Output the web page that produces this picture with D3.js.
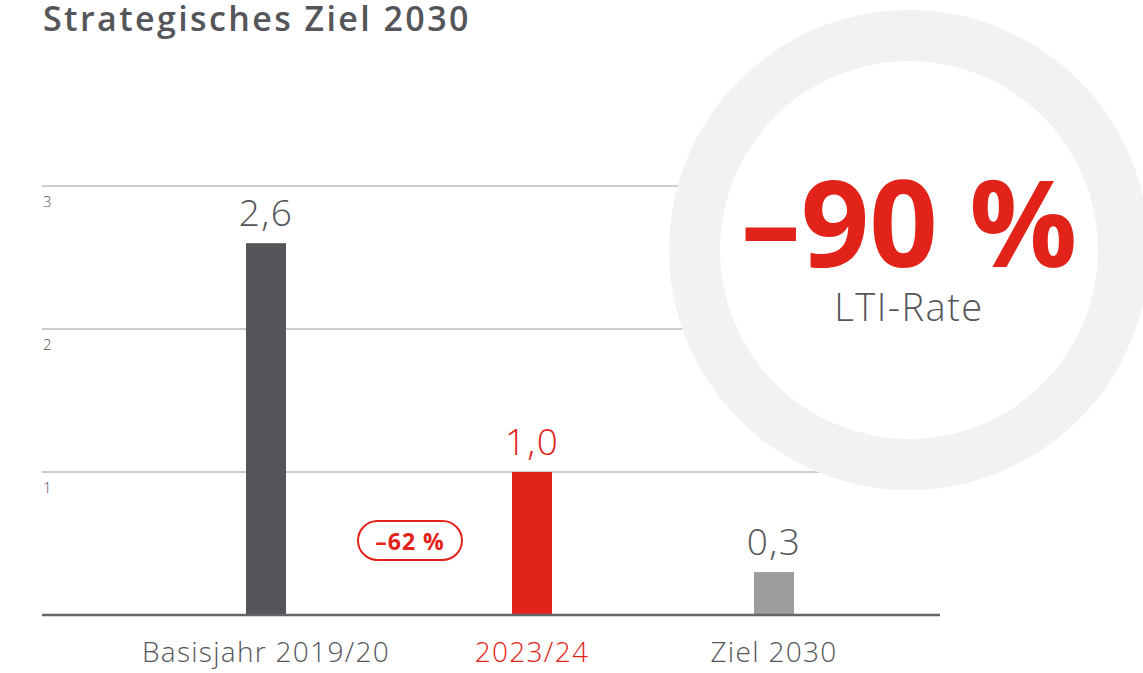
<!DOCTYPE html>
<html>
<head>
<meta charset="utf-8">
<script src="https://cdn.jsdelivr.net/npm/d3@7"></script>
<style>
  body { margin: 0; background: #fff; }
  svg text { font-family: "Open Sans", Lato, sans-serif; }
</style>
</head>
<body>
<div id="chart"></div>
<script>
// data
var categories = ["Basisjahr 2019/20", "2023/24", "Ziel 2030"];
var values = [2.6, 1.0, 0.3];
var valueLabels = ["2,6", "1,0", "0,3"];
var yTicks = [1, 2, 3];
var changeLabel = "\u201362 %";
var targetLabel = "\u201390 %";
var targetSub = "LTI-Rate";

var colors = ["#55565a", "#e2231a", "#9d9d9f"];
var textColors = ["#55565a", "#e2231a", "#55565a"];
var red = "#e2231a", dark = "#55565a";

function main() {
    var W = 1143, H = 673;
    var svg = d3.select("#chart").append("svg")
        .attr("width", W).attr("height", H);

    var x0 = 42, x1 = 940, y0 = 615;

    var x = d3.scaleOrdinal()
        .domain(categories)
        .range([266, 532, 774]);

    var y = d3.scaleLinear()
        .domain([0, 3])
        .range([y0, 186]);

    var barW = 40;

    // title
    svg.append("text")
        .attr("x", 43).attr("y", 31)
        .attr("font-size", 34).attr("font-weight", 600)
        .attr("letter-spacing", 2.4)
        .attr("fill", dark)
        .text("Strategisches Ziel 2030");

    // gridlines
    svg.selectAll(".grid")
        .data(yTicks)
        .enter().append("line")
        .attr("x1", x0).attr("x2", x1)
        .attr("y1", d => y(d)).attr("y2", d => y(d))
        .attr("stroke", "#9a9a9a").attr("stroke-width", 1);

    svg.selectAll(".ytick")
        .data(yTicks)
        .enter().append("text")
        .attr("x", 43).attr("y", d => y(d) + 21)
        .attr("font-size", 15).attr("font-weight", 300)
        .attr("fill", dark)
        .text(d => d);

    // circle with ring, covers gridlines
    var cx = 909, cy = 250;
    svg.append("circle")
        .attr("cx", cx).attr("cy", cy).attr("r", 240)
        .attr("fill", "#f2f2f2");
    svg.append("circle")
        .attr("cx", cx).attr("cy", cy).attr("r", 189)
        .attr("fill", "#fff");

    svg.append("text")
        .attr("x", cx).attr("y", 267)
        .attr("text-anchor", "middle")
        .attr("font-size", 120).attr("font-weight", 700)
        .attr("fill", red)
        .text(targetLabel);

    svg.append("text")
        .attr("x", cx).attr("y", 321)
        .attr("text-anchor", "middle")
        .attr("font-size", 38).attr("font-weight", 300)
        .attr("letter-spacing", 1.5)
        .attr("fill", dark)
        .text(targetSub);

    // bars
    svg.selectAll(".bar")
        .data(values)
        .enter().append("rect")
        .attr("x", (d, i) => x(categories[i]) - barW / 2)
        .attr("y", d => y(d))
        .attr("width", barW)
        .attr("height", d => y0 - y(d))
        .attr("fill", (d, i) => colors[i]);

    svg.selectAll(".val")
        .data(values)
        .enter().append("text")
        .attr("x", (d, i) => x(categories[i]))
        .attr("y", d => y(d) - 17)
        .attr("text-anchor", "middle")
        .attr("font-size", 37).attr("font-weight", 300)
        .attr("letter-spacing", 1.5)
        .attr("fill", (d, i) => textColors[i])
        .text((d, i) => valueLabels[i]);

    // baseline
    svg.append("line")
        .attr("x1", x0).attr("x2", x1)
        .attr("y1", y0).attr("y2", y0)
        .attr("stroke", "#646469").attr("stroke-width", 2.5);

    // category labels
    svg.selectAll(".cat")
        .data(categories)
        .enter().append("text")
        .attr("x", d => x(d))
        .attr("y", 662)
        .attr("text-anchor", "middle")
        .attr("font-size", 28).attr("font-weight", 300)
        .attr("letter-spacing", 1.3)
        .attr("fill", (d, i) => textColors[i])
        .text(d => d);

    // change pill between first two bars
    var px = (x(categories[0]) + x(categories[1])) / 2 + 11;
    var pg = svg.append("g").attr("transform", "translate(" + px + ",540)");
    pg.append("rect")
        .attr("x", -52).attr("y", -19)
        .attr("width", 104).attr("height", 39)
        .attr("rx", 19.5)
        .attr("fill", "#fff")
        .attr("stroke", red).attr("stroke-width", 2);
    pg.append("text")
        .attr("x", 0).attr("y", 10)
        .attr("text-anchor", "middle")
        .attr("font-size", 23).attr("font-weight", 700)
        .attr("letter-spacing", 1)
        .attr("fill", red)
        .text(changeLabel);
}
main();
</script>
</body>
</html>
